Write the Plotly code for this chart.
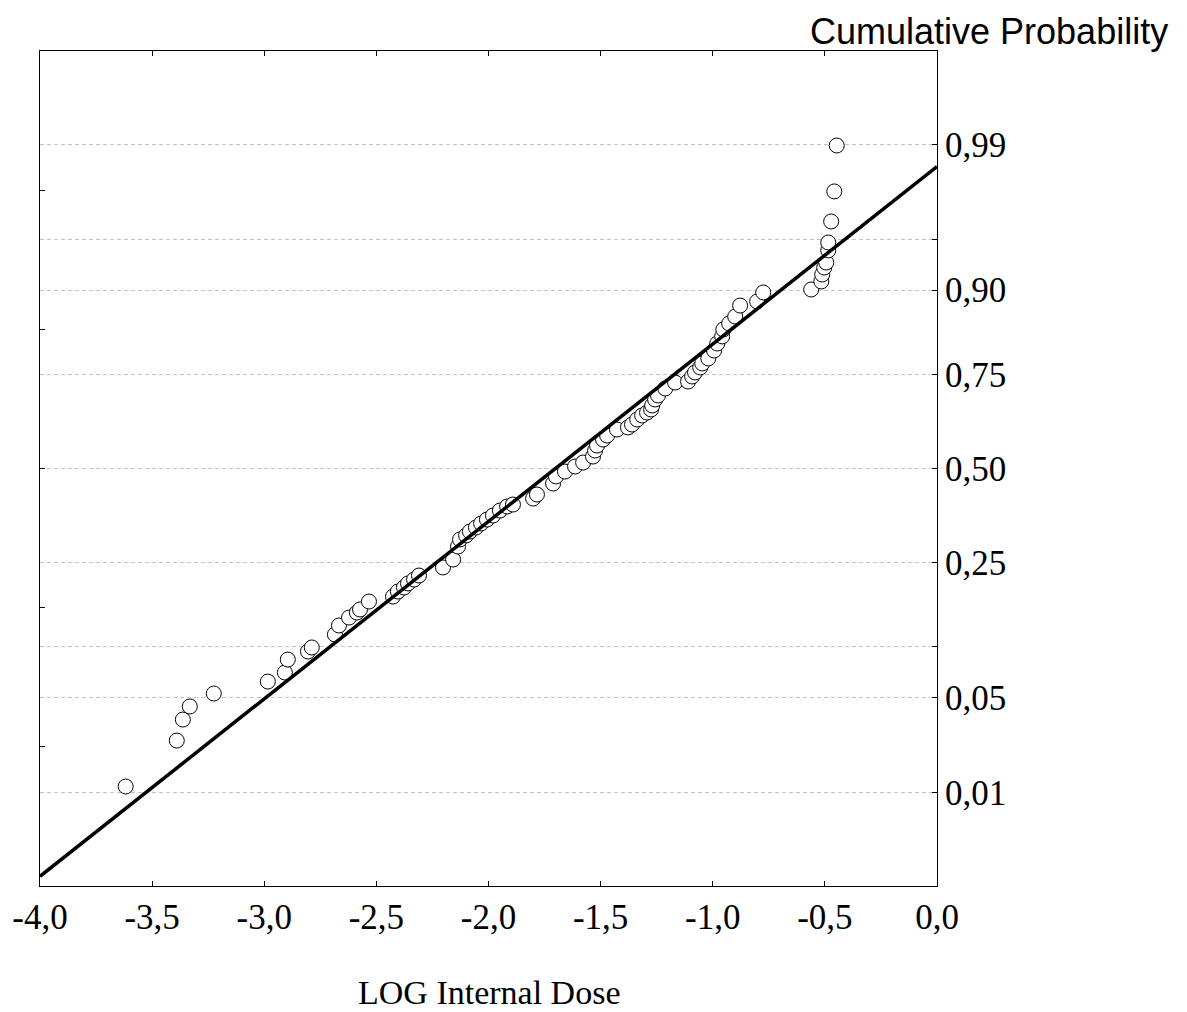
from statistics import NormalDist
import plotly.graph_objects as go

# LOG internal dose of each sample (sorted) and its expected normal value
log_dose = [
    -3.618, -3.390, -3.363, -3.332, -3.225, -2.984, -2.908, -2.895, -2.805, -2.788,
    -2.685, -2.667, -2.622, -2.587, -2.573, -2.533, -2.426, -2.404, -2.377, -2.359,
    -2.332, -2.310, -2.203, -2.158, -2.136, -2.127, -2.100, -2.083, -2.056, -2.033,
    -2.007, -1.980, -1.949, -1.917, -1.891, -1.801, -1.784, -1.712, -1.699, -1.659,
    -1.614, -1.578, -1.534, -1.525, -1.516, -1.489, -1.471, -1.427, -1.378, -1.360,
    -1.337, -1.315, -1.293, -1.275, -1.270, -1.257, -1.244, -1.212, -1.168, -1.110,
    -1.092, -1.079, -1.056, -1.047, -1.020, -0.994, -0.980, -0.958, -0.953, -0.927,
    -0.900, -0.878, -0.802, -0.775, -0.561, -0.516, -0.512, -0.503, -0.494, -0.485,
    -0.485, -0.472, -0.458, -0.447,
]
normal_score = [
    -2.285, -1.955, -1.804, -1.710, -1.617, -1.531, -1.466, -1.373, -1.315, -1.286,
    -1.193, -1.128, -1.071, -1.035, -1.013, -0.956, -0.920, -0.884, -0.855, -0.826,
    -0.798, -0.769, -0.711, -0.654, -0.561, -0.510, -0.481, -0.453, -0.424, -0.395,
    -0.367, -0.338, -0.302, -0.273, -0.259, -0.216, -0.187, -0.108, -0.057, -0.022,
    0.014, 0.043, 0.086, 0.129, 0.165, 0.208, 0.237, 0.280, 0.295, 0.316,
    0.352, 0.381, 0.402, 0.424, 0.453, 0.496, 0.525, 0.575, 0.618, 0.625,
    0.661, 0.690, 0.726, 0.755, 0.791, 0.848, 0.898, 0.949, 0.999, 1.042,
    1.092, 1.171, 1.200, 1.265, 1.286, 1.344, 1.394, 1.444, 1.480, 1.567,
    1.624, 1.775, 1.991, 2.321,
]

# fitted normal reference line: z = intercept + slope * x
fit_intercept = 2.17
fit_slope = 1.275
x_range = [-4.0, 0.0]

# x axis ticks
x_ticks = [-4.0, -3.5, -3.0, -2.5, -2.0, -1.5, -1.0, -0.5, 0.0]
x_tick_labels = ["-4,0", "-3,5", "-3,0", "-2,5", "-2,0", "-1,5", "-1,0", "-0,5", "0,0"]

# cumulative probability gridlines (right axis)
prob_levels = [0.01, 0.05, 0.10, 0.25, 0.50, 0.75, 0.90, 0.95, 0.99]
prob_labels = ["0,01", "0,05", "", "0,25", "0,50", "0,75", "0,90", "", "0,99"]
prob_z = [NormalDist().inv_cdf(p) for p in prob_levels]

# expected normal value ticks (left axis)
z_ticks = [-3, -2, -1, 0, 1, 2, 3]

serif = "Liberation Serif"
tick_font = dict(family=serif, size=35, color="black")

fig = go.Figure()

fig.add_trace(go.Scatter(
    x=log_dose, y=normal_score, mode="markers",
    marker=dict(symbol="circle", size=15, color="white",
                line=dict(color="black", width=1)),
    showlegend=False,
))

fig.add_trace(go.Scatter(
    x=x_range, y=[fit_intercept + fit_slope * v for v in x_range],
    mode="lines", line=dict(color="black", width=3.5),
    showlegend=False,
))

# invisible trace to activate the right-hand probability axis
fig.add_trace(go.Scatter(
    x=x_range, y=[-3, 3], yaxis="y2", mode="markers",
    marker=dict(opacity=0), showlegend=False, hoverinfo="skip",
))

fig.update_layout(
    width=1187, height=1012,
    margin=dict(l=40, r=250, t=51, b=126),
    paper_bgcolor="white", plot_bgcolor="white",
    font=dict(family=serif, size=35, color="black"),
    xaxis=dict(
        range=x_range, tickvals=x_ticks, ticktext=x_tick_labels,
        ticks="inside", ticklen=5, tickcolor="black", tickwidth=1,
        showline=True, linecolor="black", linewidth=1, mirror="ticks",
        showgrid=False, zeroline=False, tickfont=tick_font,
    ),
    yaxis=dict(
        range=[-3, 3], tickvals=z_ticks,
        ticks="inside", ticklen=5, tickcolor="black", tickwidth=1,
        showticklabels=False, showline=True, linecolor="black", linewidth=1,
        showgrid=False, zeroline=False,
    ),
    yaxis2=dict(
        range=[-3, 3], overlaying="y", side="right",
        tickvals=prob_z, ticktext=prob_labels,
        ticks="inside", ticklen=5, tickcolor="black", tickwidth=1,
        showline=True, linecolor="black", linewidth=1,
        showgrid=True, gridcolor="#c4c4c4", gridwidth=1, griddash="4px,3px",
        zeroline=False, tickfont=tick_font,
    ),
    annotations=[
        dict(text="LOG Internal Dose", xref="paper", yref="paper",
             x=0.5, y=-0.128, xanchor="center", yanchor="middle",
             showarrow=False, font=dict(family=serif, size=34, color="black")),
        dict(text="Cumulative Probability", xref="paper", yref="paper",
             x=1.2594, y=1.0228, xanchor="right", yanchor="middle",
             showarrow=False,
             font=dict(family="Liberation Sans", size=36, color="black")),
    ],
)

fig.write_html("out.html")
